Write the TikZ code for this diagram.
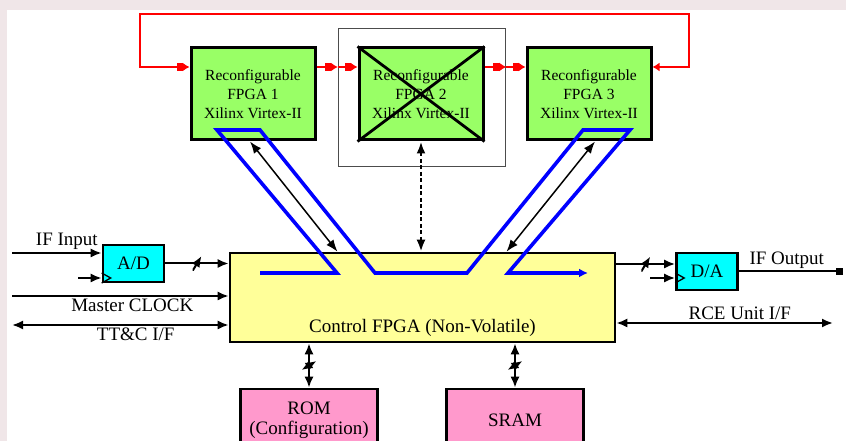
\documentclass[tikz,border=0pt]{standalone}
\usepackage{fontspec}
\setmainfont{Liberation Serif}
\usetikzlibrary{arrows.meta}
\usetikzlibrary{shapes,arrows}
\usetikzlibrary{calc}

\definecolor{fpgagreen}{RGB}{153,255,102}
\definecolor{ctrlyellow}{RGB}{255,255,153}
\definecolor{convcyan}{RGB}{0,255,255}
\definecolor{mempink}{RGB}{255,153,204}
\definecolor{speckle}{RGB}{240,230,232}

\begin{document}
\begin{tikzpicture}[x=1pt, y=1pt, node distance=168pt]
\tikzstyle{fpga} = [ rectangle, draw, line width=3pt, fill=fpgagreen, minimum width=124pt, minimum height=92pt, align=center, inner sep=0pt, font=\fontsize{15.5}{19}\selectfont ]
\tikzstyle{spare} = [ rectangle, draw=black!70, line width=1.4pt, minimum width=167pt, minimum height=138pt ]
\tikzstyle{control} = [ rectangle, draw, line width=2.6pt, fill=ctrlyellow, minimum width=385pt, minimum height=89pt ]
\tikzstyle{conv} = [ rectangle, draw, line width=2.6pt, fill=convcyan, minimum width=61pt, minimum height=37pt, font=\fontsize{19}{22}\selectfont ]
\tikzstyle{memory} = [ rectangle, draw, line width=2.6pt, fill=mempink, minimum width=137pt, minimum height=63pt, align=center, font=\fontsize{19}{20}\selectfont ]
\tikzstyle{lbl} = [ font=\fontsize{19}{22}\selectfont, inner sep=2pt ]
\tikzstyle{line} = [ draw, line width=2pt, >={Latex[length=11pt,width=9pt]}, -> ]
\tikzstyle{dline} = [ line, <-> ]
\tikzstyle{link} = [ draw, line width=1.5pt, >={Latex[length=12pt,width=9pt]}, <-> ]
\tikzstyle{dashlink} = [ link, line width=2.6pt, dash pattern=on 4pt off 2.5pt ]
\tikzstyle{ring} = [ draw, red, line width=2.4pt, {Latex[length=7pt,width=9pt]}-{Square[length=6pt,width=8pt] Latex[length=7pt,width=9pt]} ]
\tikzstyle{hop} = [ draw, red, line width=1.2pt, -{Square[length=6pt,width=8pt] Latex[length=7pt,width=9pt]} ]
\tikzstyle{stream} = [ draw, blue, line width=3.6pt, -{Latex[length=9pt,width=9pt]} ]
\tikzstyle{bus} = [ inner sep=0pt, minimum width=9pt, minimum height=15pt, path picture={\draw[line width=2pt] (path picture bounding box.south west) -- (path picture bounding box.north east);} ]
\tikzstyle{vbus} = [ bus, minimum width=15pt, minimum height=9pt ]
\tikzstyle{clock} = [ draw, line width=1.3pt ]
\tikzstyle{cross} = [ draw, line width=2.8pt ]

% background
\fill [speckle] (0,0) rectangle (846,441);
\fill [white] (7,0) rectangle (846,431);
\useasboundingbox (0,0) rectangle (846,441);

% place nodes
\node [spare] (spare) at (422,343.5) {};
\node [fpga] (fpga-2) at (421,347) {Reconfigurable\\FPGA 2\\Xilinx Virtex-II};
\node [fpga, left of=fpga-2] (fpga-1) {Reconfigurable\\FPGA 1\\Xilinx Virtex-II};
\node [fpga, right of=fpga-2] (fpga-3) {Reconfigurable\\FPGA 3\\Xilinx Virtex-II};
\node [control, label={[lbl, anchor=base, yshift=11pt]south:Control FPGA (Non-Volatile)}] (control) at (422.5,143.5) {};
\node [conv] (adc) at (133.5,177.5) {A/D};
\node [conv] (dac) at (707,169.5) {D/A};
\node [memory] (rom) at (309,20.5) {ROM\\(Configuration)};
\node [memory] (sram) at (515,20.5) {SRAM};

\coordinate (if-in) at (12,188);
\coordinate (adc-clk) at (78,163);
\coordinate (clk-in) at (12,145);
\coordinate (ttc) at (12,116);
\coordinate (dac-in) at ([yshift=7.5pt]dac.west);
\coordinate (dac-clk) at (650,163);
\coordinate (if-out) at (843,169.5);
\coordinate (rce) at (833,118);
\coordinate (ring-l) at (140,427);
\coordinate (ring-r) at (689,427);
\coordinate (ring-in) at ([yshift=27pt]fpga-1.west);
\coordinate (ring-out) at ([yshift=27pt]fpga-3.east);
\coordinate (hop-1) at ([yshift=27pt]fpga-1.east);
\coordinate (hop-2) at ([yshift=27pt]fpga-2.east);

% spare FPGA crossed out
\path [cross] (fpga-2.north west) -- (fpga-2.south east) (fpga-2.south west) -- (fpga-2.north east);

% draw edges
\path [ring] (ring-out) -| (ring-r) -- (ring-l) |- (ring-in);
\path [hop] (hop-1) -- (hop-1 -| spare.west);
\path [hop] (hop-1 -| spare.west) -- (hop-1 -| fpga-2.west);
\path [hop] (hop-2) -- (hop-2 -| spare.east);
\path [hop] (hop-2 -| spare.east) -- (hop-2 -| fpga-3.west);

\path [line] (if-in) -- node [lbl, above, xshift=10pt] {IF Input} (if-in -| adc.west);
\path [line] (adc-clk) -- (adc-clk -| adc.west);
\draw [clock] ([yshift=5pt]adc-clk -| adc.west) -- ++(9,-5) -- ++(-9,-5);
\path [line] (adc.east) -- node [bus] {} (adc.east -| control.west);
\path [line] (clk-in) -- node [lbl, below, pos=0.555] {Master CLOCK} (clk-in -| control.west);
\path [dline] (ttc) -- node [lbl, below, pos=0.571] {TT\&C I/F} (ttc -| control.west);

\path [line] (dac-in -| control.east) -- node [bus] {} (dac-in);
\path [line] (dac-clk) -- (dac-clk -| dac.west);
\draw [clock] ([yshift=5pt]dac-clk -| dac.west) -- ++(9,-5) -- ++(-9,-5);
\path [draw, line width=2pt, -{Square[length=7pt,width=7pt]}] (dac.east) -- node [lbl, above, pos=0.46] {IF Output} (if-out);
\path [dline] (rce -| control.east) -- node [lbl, above, pos=0.57] {RCE Unit I/F} (rce);

\path [dline] (control.south -| rom.north) -- node [vbus] {} (rom.north);
\path [dline] (control.south -| sram.north) -- node [vbus] {} (sram.north);

\path [link] ([xshift=-3pt]fpga-1.south) -- ([xshift=-85pt]control.north);
\path [link] ([xshift=6pt]fpga-3.south) -- ([xshift=84pt]control.north);
\path [dashlink] (fpga-2.south) -- (fpga-2.south |- control.north);

% data stream through the FPGAs
\path [stream] (260,168) -- (337,168) -- (217,311) -- (260,311) -- (375,168) -- (467,168) -- (583,311) -- (630,311) -- (508,168) -- (588,168);

\end{tikzpicture}
\end{document}
